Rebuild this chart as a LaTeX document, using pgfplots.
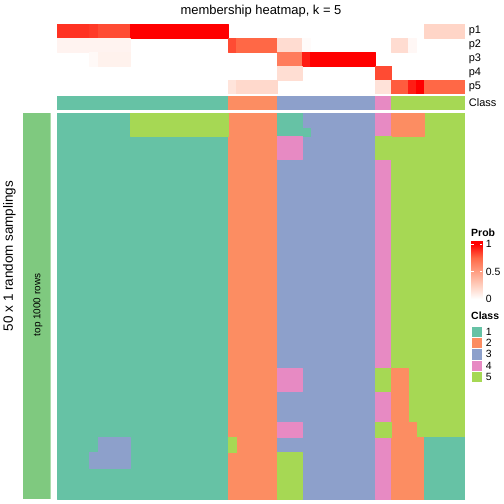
\documentclass[border=0pt]{standalone}
\usepackage{pgfplots}
\pgfplotsset{compat=1.18}
\usepackage{fontspec}
\setmainfont{Liberation Sans}
\definecolor{barg}{RGB}{127,201,127}
\definecolor{c1}{RGB}{102,194,165}
\definecolor{c2}{RGB}{252,141,98}
\definecolor{c3}{RGB}{141,160,203}
\definecolor{c4}{RGB}{231,138,195}
\definecolor{c5}{RGB}{166,216,84}
\newcommand\fs[1]{\fontsize{#1}{#1}\selectfont}
\pgfplotsset{
  colormap={classes}{rgb255=(255,255,255) rgb255=(102,194,165) rgb255=(252,141,98) rgb255=(141,160,203) rgb255=(231,138,195) rgb255=(166,216,84)},
  colormap={prob}{rgb255=(255,255,255) rgb255=(255,207,191) rgb255=(255,158,130) rgb255=(255,104,70) rgb255=(255,0,0)},
  hm/.style={scale only axis, hide axis, anchor=north west, xmin=0, xmax=50, y dir=reverse},
  hmcells/.style={patch, patch type=rectangle, shader=flat corner, point meta=explicit},
}
\begin{document}
\begin{tikzpicture}
% left annotation bar
\begin{axis}[hm, at={(23bp,-113bp)}, width=27.7bp, height=386bp, xmin=0, xmax=1, ymin=0, ymax=50]
\addplot[fill=barg, draw=none] coordinates {(0,0) (1,0) (1,50) (0,50)} -- cycle;
\end{axis}
% Prob colour bar
\begin{axis}[scale only axis, at={(471bp,-241.25bp)}, anchor=north west, width=11.3bp, height=60.5bp,
  xmin=0, xmax=1, ymin=-0.05, ymax=1.05, colormap name=prob, point meta min=0, point meta max=1,
  axis line style={draw=none}, xtick=\empty, ytick={0,0.5,1}, yticklabels={0,0.5,1},
  yticklabel pos=right, tick align=inside, major tick length=2.5bp, axis on top,
  ytick style={draw=white, line width=0.6bp},
  yticklabel style={font=\fs{10.5}, /pgf/number format/assume math mode=true}]
\addplot[surf, shader=interp, mesh/cols=2, point meta=explicit] table[meta=m] {
x y m
0 -0.05 0
1 -0.05 0

0 0 0
1 0 0

0 1 1
1 1 1

0 1.05 1
1 1.05 1
};
\end{axis}
% Class legend
\begin{axis}[scale only axis, at={(471bp,-326bp)}, anchor=north west, width=11.3bp, height=56.5bp,
  xmin=0, xmax=1, ymin=0, ymax=5, y dir=reverse, axis line style={draw=none}, xtick=\empty,
  ytick={0.5,1.5,2.5,3.5,4.5}, yticklabels={1,2,3,4,5}, yticklabel pos=right, major tick length=0pt,
  yticklabel style={font=\fs{10.5}, /pgf/number format/assume math mode=true}]
\addplot[fill=c1, draw=white, line width=0.8bp] coordinates {(0,0) (1,0) (1,1) (0,1)} -- cycle;
\addplot[fill=c2, draw=white, line width=0.8bp] coordinates {(0,1) (1,1) (1,2) (0,2)} -- cycle;
\addplot[fill=c3, draw=white, line width=0.8bp] coordinates {(0,2) (1,2) (1,3) (0,3)} -- cycle;
\addplot[fill=c4, draw=white, line width=0.8bp] coordinates {(0,3) (1,3) (1,4) (0,4)} -- cycle;
\addplot[fill=c5, draw=white, line width=0.8bp] coordinates {(0,4) (1,4) (1,5) (0,5)} -- cycle;
\end{axis}
% main membership heatmap: 50 samplings (rows) x 50 samples (columns), class runs as rectangles
\begin{axis}[hm, at={(57bp,-113bp)}, width=408bp, height=386bp, ymin=0, ymax=50,
  colormap name=classes, colormap access=direct]
\addplot[hmcells] coordinates {
(0,0)[1] (21,0)[1] (21,50)[1] (0,50)[1]
(21,0)[2] (27,0)[2] (27,50)[2] (21,50)[2]
(27,0)[3] (39,0)[3] (39,50)[3] (27,50)[3]
(39,0)[4] (41,0)[4] (41,50)[4] (39,50)[4]
(41,0)[5] (50,0)[5] (50,50)[5] (41,50)[5]
(9,0)[5] (21,0)[5] (21,3)[5] (9,3)[5]
(27,0)[1] (30,0)[1] (30,3)[1] (27,3)[1]
(30,2)[1] (31,2)[1] (31,3)[1] (30,3)[1]
(41,0)[2] (45,0)[2] (45,3)[2] (41,3)[2]
(27,3)[4] (30,3)[4] (30,6)[4] (27,6)[4]
(39,3)[5] (41,3)[5] (41,6)[5] (39,6)[5]
(27,33)[4] (30,33)[4] (30,36)[4] (27,36)[4]
(39,33)[5] (41,33)[5] (41,36)[5] (39,36)[5]
(41,33)[2] (43,33)[2] (43,50)[2] (41,50)[2]
(43,40)[2] (44,40)[2] (44,50)[2] (43,50)[2]
(44,42)[2] (45,42)[2] (45,50)[2] (44,50)[2]
(45,42)[1] (50,42)[1] (50,50)[1] (45,50)[1]
(27,40)[4] (30,40)[4] (30,42)[4] (27,42)[4]
(39,40)[5] (41,40)[5] (41,42)[5] (39,42)[5]
(27,44)[5] (30,44)[5] (30,50)[5] (27,50)[5]
(5,42)[3] (9,42)[3] (9,46)[3] (5,46)[3]
(4,44)[3] (5,44)[3] (5,46)[3] (4,46)[3]
(21,42)[5] (22,42)[5] (22,44)[5] (21,44)[5]
};
\end{axis}
% top annotation p1..p5 (membership probabilities)
\begin{axis}[hm, at={(57bp,-24bp)}, width=408bp, height=70bp, ymin=0, ymax=5,
  colormap name=prob, point meta min=0, point meta max=1]
\addplot[hmcells] coordinates {
(0,0)[0.88] (4,0)[0.88] (4,1)[0.88] (0,1)[0.88]
(4,0)[0.86] (5,0)[0.86] (5,1)[0.86] (4,1)[0.86]
(5,0)[0.82] (9,0)[0.82] (9,1)[0.82] (5,1)[0.82]
(9,0)[1.0] (21,0)[1.0] (21,1)[1.0] (9,1)[1.0]
(45,0)[0.22] (50,0)[0.22] (50,1)[0.22] (45,1)[0.22]
(0,1)[0.06] (9,1)[0.06] (9,2)[0.06] (0,2)[0.06]
(21,1)[0.82] (22,1)[0.82] (22,2)[0.82] (21,2)[0.82]
(22,1)[0.75] (27,1)[0.75] (27,2)[0.75] (22,2)[0.75]
(27,1)[0.18] (30,1)[0.18] (30,2)[0.18] (27,2)[0.18]
(30,1)[0.02] (31,1)[0.02] (31,2)[0.02] (30,2)[0.02]
(41,1)[0.18] (43,1)[0.18] (43,2)[0.18] (41,2)[0.18]
(43,1)[0.04] (44,1)[0.04] (44,2)[0.04] (43,2)[0.04]
(4,2)[0.03] (5,2)[0.03] (5,3)[0.03] (4,3)[0.03]
(5,2)[0.07] (9,2)[0.07] (9,3)[0.07] (5,3)[0.07]
(27,2)[0.66] (30,2)[0.66] (30,3)[0.66] (27,3)[0.66]
(30,2)[0.93] (31,2)[0.93] (31,3)[0.93] (30,3)[0.93]
(31,2)[1.0] (39,2)[1.0] (39,3)[1.0] (31,3)[1.0]
(27,3)[0.17] (30,3)[0.17] (30,4)[0.17] (27,4)[0.17]
(39,3)[0.82] (41,3)[0.82] (41,4)[0.82] (39,4)[0.82]
(21,4)[0.14] (22,4)[0.14] (22,5)[0.14] (21,5)[0.14]
(22,4)[0.2] (27,4)[0.2] (27,5)[0.2] (22,5)[0.2]
(39,4)[0.15] (41,4)[0.15] (41,5)[0.15] (39,5)[0.15]
(41,4)[0.78] (43,4)[0.78] (43,5)[0.78] (41,5)[0.78]
(43,4)[0.93] (44,4)[0.93] (44,5)[0.93] (43,5)[0.93]
(44,4)[1.0] (45,4)[1.0] (45,5)[1.0] (44,5)[1.0]
(45,4)[0.75] (50,4)[0.75] (50,5)[0.75] (45,5)[0.75]
};
\end{axis}
% class annotation
\begin{axis}[hm, at={(57bp,-95.7bp)}, width=408bp, height=14bp, ymin=0, ymax=1,
  colormap name=classes, colormap access=direct]
\addplot[hmcells] coordinates {
(0,0)[1] (21,0)[1] (21,1)[1] (0,1)[1]
(21,0)[2] (27,0)[2] (27,1)[2] (21,1)[2]
(27,0)[3] (39,0)[3] (39,1)[3] (27,1)[3]
(39,0)[4] (41,0)[4] (41,1)[4] (39,1)[4]
(41,0)[5] (50,0)[5] (50,1)[5] (41,1)[5]
};
\end{axis}
% texts
\node[font=\fs{13}] at (261bp,-11bp) {membership heatmap, k = 5};
\node[anchor=west, inner sep=0, font=\fs{11}] at (468.7bp,-31bp) {p1};
\node[anchor=west, inner sep=0, font=\fs{11}] at (468.7bp,-45bp) {p2};
\node[anchor=west, inner sep=0, font=\fs{11}] at (468.7bp,-59bp) {p3};
\node[anchor=west, inner sep=0, font=\fs{11}] at (468.7bp,-73bp) {p4};
\node[anchor=west, inner sep=0, font=\fs{11}] at (468.7bp,-87bp) {p5};
\node[anchor=west, inner sep=0, font=\fs{11}] at (468.7bp,-102.7bp) {Class};
\node[rotate=90, font=\fs{13.5}] at (9.5bp,-256bp) {50 x 1 random samplings};
\node[rotate=90, font=\fs{10}] at (38bp,-305bp) {top 1000 rows};
\node[anchor=west, inner sep=0, font=\bfseries\fs{10.5}] at (471bp,-233bp) {Prob};
\node[anchor=west, inner sep=0, font=\bfseries\fs{10.5}] at (471bp,-316bp) {Class};
\pgfresetboundingbox
\path (0,0) rectangle (504bp,-504bp);
\end{tikzpicture}
\end{document}
